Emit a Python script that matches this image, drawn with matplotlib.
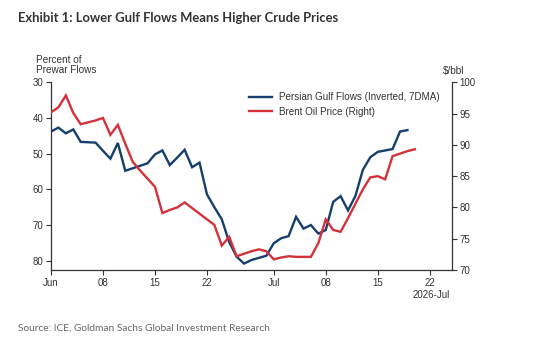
import matplotlib
matplotlib.use("Agg")
import matplotlib.pyplot as plt
import matplotlib.dates as mdates
import numpy as np
import pandas as pd

# ---- data ----
gulf_start = "2026-06-01"
gulf_flows = [43.8, 42.7, 44.3, 43.2, 46.7, 46.8, 46.9, 49.2, 51.4, 47.0,
              54.8, 54.1, 53.4, 52.7, 50.2, 49.1, 53.2, 51.1, 48.9, 53.8,
              52.5, 61.4, 65.0, 68.4, 74.8, 78.9, 80.8, 79.8, 79.2, 78.6,
              75.1, 73.7, 73.1, 67.7, 71.0, 70.0, 72.4, 71.4, 63.5, 61.9,
              65.9, 61.8, 54.5, 51.0, 49.5, 49.1, 48.7, 43.8, 43.4]
brent_start = "2026-06-01"
brent = [95.2, 96.0, 97.9, 95.1, 93.3, 93.6, 93.9, 94.3, 91.6, 93.2,
         90.2, 87.3, 85.9, 84.6, 83.3, 79.1, 79.6, 80.0, 80.8, 79.9,
         79.0, 78.1, 77.2, 73.9, 75.3, 72.2, 72.6, 73.0, 73.3, 73.0,
         71.7, 72.0, 72.2, 72.1, 72.1, 72.1, 74.3, 78.1, 76.4, 76.1,
         78.3, 80.6, 82.9, 84.8, 85.0, 84.5, 88.2, 88.6, 89.0, 89.3]
tick_dates = ["2026-06-01", "2026-06-08", "2026-06-15", "2026-06-22",
              "2026-07-01", "2026-07-08", "2026-07-15", "2026-07-22"]
tick_labels = ["Jun", "08", "15", "22", "Jul", "08", "15", "22"]
left_ticks = [30, 40, 50, 60, 70, 80]
right_ticks = [70, 75, 80, 85, 90, 95, 100]

gulf_dates = pd.date_range(gulf_start, periods=len(gulf_flows), freq="D")
brent_dates = pd.date_range(brent_start, periods=len(brent), freq="D")

BLUE = "#163f6b"
RED = "#d2323a"
AX = "#333333"

plt.rcParams["font.family"] = ["Liberation Sans", "DejaVu Sans"]

fig = plt.figure(figsize=(5.57, 3.41), dpi=100)
fig.patch.set_facecolor("white")
ax = fig.add_axes([51/557, 1-270/341, (452-51)/557, (270-82.3)/341])
ax2 = ax.twinx()

l1, = ax.plot(gulf_dates, gulf_flows, color=BLUE, lw=1.7, solid_joinstyle="miter")
l2, = ax2.plot(brent_dates, brent, color=RED, lw=1.7, solid_joinstyle="miter")

ax.set_xlim(pd.Timestamp("2026-06-01"), pd.Timestamp("2026-07-25"))
ax.set_ylim(82.6, 30)
ax2.set_ylim(70, 100)
ax.set_yticks(left_ticks)
ax2.set_yticks(right_ticks)
ax.set_xticks(pd.to_datetime(tick_dates))
ax.set_xticklabels(tick_labels)

for a in (ax, ax2):
    a.spines["top"].set_visible(False)
    for s in a.spines.values():
        s.set_color(AX)
        s.set_linewidth(0.9)
    a.tick_params(colors=AX, labelsize=7.0, length=3.5, width=0.8, pad=2)
ax.spines["right"].set_visible(False)
ax2.spines["left"].set_visible(False)
ax2.spines["bottom"].set_visible(False)

fig.text(36/557, 1-65/341, "Percent of\nPrewar Flows", fontsize=7.2, color=AX,
         va="center", ha="left", linespacing=1.0)
fig.text(454/557, 1-71/341, "$/bbl", fontsize=7.2, color=AX, va="center", ha="center")
fig.text(450/557, 1-295/341, "2026-Jul", fontsize=7.0, color=AX, va="center", ha="right")

leg = ax.legend([l1, l2], ["Persian Gulf Flows (Inverted, 7DMA)", "Brent Oil Price (Right)"],
                loc="upper left", bbox_to_anchor=((249-51)/401, 1-(92.5-82.3)/187.7),
                frameon=False, fontsize=7.1, handlelength=2.3, handletextpad=0.7,
                labelspacing=0.45, borderaxespad=0, borderpad=0)
for t in leg.get_texts():
    t.set_color(AX)

fig.text(18/557, 1-18/341, "Exhibit 1: Lower Gulf Flows Means Higher Crude Prices",
         fontsize=9.4, fontweight="bold", color="#333333", family=["Lato", "DejaVu Sans"],
         va="center", ha="left")
fig.text(18/557, 1-328/341, "Source: ICE, Goldman Sachs Global Investment Research",
         fontsize=7.3, color="#666666", family=["Lato", "DejaVu Sans"], va="center", ha="left")

fig.savefig("out.png", dpi=100, facecolor="white")
